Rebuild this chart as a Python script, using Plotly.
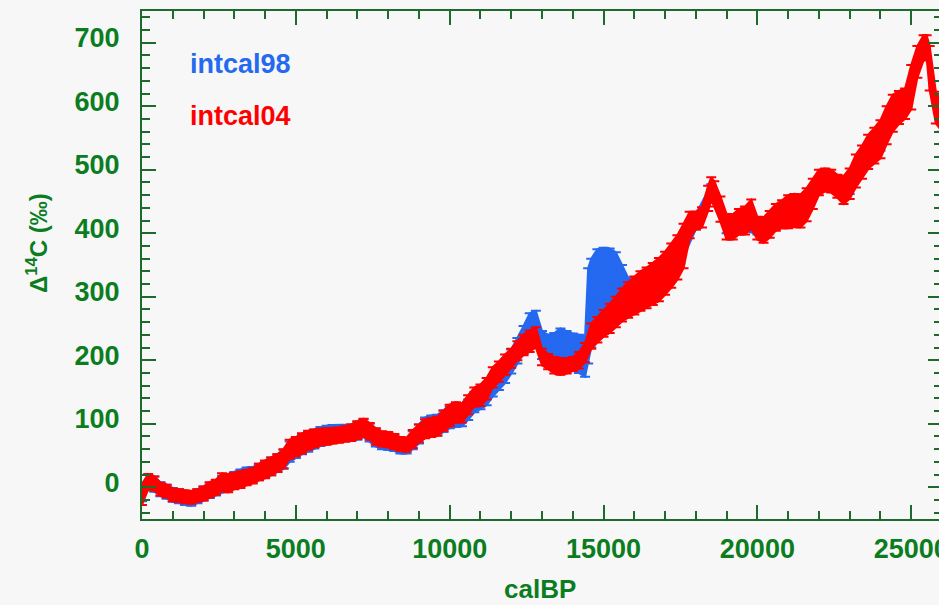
import plotly.graph_objects as go

# --- IntCal04 (red): cal BP, delta-14C (permil), 1-sigma ---
cal04 = [0, 200, 400, 600, 800, 1000, 1200, 1400, 1600, 1800,
         2000, 2200, 2400, 2600, 2800, 3000, 3200, 3400, 3600, 3800,
         4000, 4200, 4400, 4600, 4800, 5000, 5200, 5400, 5600, 5800,
         6000, 6200, 6400, 6600, 6800, 7000, 7200, 7400, 7600, 7800,
         8000, 8200, 8400, 8600, 8800, 9000, 9200, 9400, 9600, 9800,
         10000, 10200, 10400, 10600, 10800, 11000, 11200, 11400, 11600, 11800,
         12000, 12200, 12400, 12600, 12800, 13000, 13200, 13400, 13600, 13800,
         14000, 14200, 14400, 14600, 14800, 15000, 15200, 15400, 15600, 15800,
         16000, 16200, 16400, 16600, 16800, 17000, 17200, 17400, 17600, 17800,
         18000, 18200, 18400, 18500, 18600, 18800, 19000, 19200, 19400, 19600,
         19800, 20000, 20200, 20400, 20600, 20800, 21000, 21200, 21400, 21600,
         21800, 22000, 22200, 22400, 22600, 22800, 23000, 23200, 23400, 23600,
         23800, 24000, 24200, 24400, 24600, 24800, 25000, 25200, 25400, 25500,
         25600, 25800, 26000]
d14c04 = [-12, 9, 6, -3, -6, -12, -13, -15, -16, -13,
          -10, -4, 0, 8, 6, 10, 12, 15, 18, 24,
          28, 33, 38, 45, 60, 64, 69, 74, 77, 79,
          80, 81, 82, 84, 86, 90, 94, 88, 80, 76,
          75, 72, 68, 67, 76, 85, 92, 94, 96, 105,
          113, 118, 117, 130, 142, 145, 155, 173, 182, 193,
          203, 215, 224, 230, 236, 205, 198, 192, 190, 191,
          194, 200, 212, 238, 248, 258, 266, 276, 287, 295,
          302, 309, 314, 320, 327, 337, 349, 362, 380, 413,
          420, 425, 455, 470, 462, 438, 410, 410, 418, 420,
          430, 408, 405, 414, 425, 430, 434, 436, 435, 445,
          462, 480, 484, 482, 474, 468, 478, 498, 512, 528,
          538, 548, 570, 589, 598, 604, 630, 670, 692, 694,
          660, 598, 582]
sig04 = [16, 12, 11, 10, 10, 10, 10, 10, 10, 10,
         11, 12, 12, 14, 14, 13, 13, 12, 12, 13,
         14, 14, 14, 15, 15, 15, 16, 15, 14, 13,
         13, 12, 12, 12, 13, 14, 14, 13, 13, 12,
         12, 12, 11, 11, 14, 14, 15, 15, 15, 16,
         17, 16, 15, 15, 15, 17, 17, 16, 16, 16,
         15, 15, 16, 17, 16, 13, 12, 13, 13, 12,
         11, 13, 15, 20, 20, 21, 23, 24, 26, 28,
         30, 31, 32, 33, 34, 34, 35, 35, 35, 21,
         14, 16, 20, 18, 20, 20, 20, 20, 20, 22,
         23, 18, 20, 21, 21, 22, 26, 26, 26, 26,
         24, 20, 18, 18, 18, 22, 24, 26, 26, 27,
         28, 30, 30, 29, 26, 24, 35, 25, 20, 18,
         35, 25, 22]

# --- IntCal98 (blue): cal BP, delta-14C (permil), 1-sigma ---
cal98 = [0, 200, 400, 600, 800, 1000, 1200, 1400, 1600, 1800,
         2000, 2200, 2400, 2600, 2800, 3000, 3200, 3400, 3600, 3800,
         4000, 4200, 4400, 4600, 4800, 5000, 5200, 5400, 5600, 5800,
         6000, 6200, 6400, 6600, 6800, 7000, 7200, 7400, 7600, 7800,
         8000, 8200, 8400, 8600, 8800, 9000, 9200, 9400, 9600, 9800,
         10000, 10200, 10400, 10600, 10800, 11000, 11200, 11400, 11600, 11800,
         12000, 12200, 12400, 12600, 12800, 13000, 13200, 13400, 13600, 13800,
         14000, 14200, 14400, 14500, 14600, 14800, 15000, 15200, 15400, 15600,
         15800, 16000, 16500, 17000, 17500, 18000, 18500, 19000, 19500, 20000,
         20500, 21000, 21500, 22000, 22500, 23000, 23500, 24000]
d14c98 = [-8, 8, 5, -3, -7, -12, -14, -17, -18, -14,
          -10, -5, -1, 5, 8, 11, 15, 18, 20, 24,
          28, 33, 38, 44, 56, 62, 68, 72, 76, 80,
          83, 84, 85, 85, 86, 89, 93, 86, 78, 73,
          72, 70, 65, 65, 74, 84, 94, 97, 98, 104,
          110, 112, 112, 122, 134, 140, 146, 160, 170, 182,
          198, 215, 232, 250, 252, 224, 218, 220, 224, 222,
          216, 210, 206, 270, 290, 305, 312, 318, 322, 320,
          305, 302, 316, 336, 370, 418, 465, 412, 418, 410,
          418, 433, 440, 478, 478, 476, 520, 546]
sig98 = [14, 12, 12, 11, 11, 11, 11, 11, 11, 11,
         11, 12, 12, 13, 13, 13, 13, 13, 12, 13,
         13, 14, 14, 15, 16, 16, 16, 16, 15, 15,
         14, 14, 13, 13, 13, 14, 14, 14, 14, 13,
         13, 13, 12, 12, 14, 15, 16, 16, 16, 17,
         17, 17, 16, 16, 16, 17, 17, 17, 17, 18,
         19, 20, 22, 24, 26, 22, 22, 23, 26, 24,
         26, 30, 32, 75, 70, 70, 65, 58, 48, 30,
         25, 20, 18, 18, 18, 12, 12, 12, 12, 12,
         12, 14, 14, 12, 12, 14, 14, 16]

BLUE = "#2469f0"
RED = "#ff0000"
TXT = "#0b7d1f"
AXC = "#1d6a2c"
BG = "#f7f7f7"
FONT = "Liberation Sans, Arial, sans-serif"


def add_curve(fig, x, y, s, color):
    hi = [v + e for v, e in zip(y, s)]
    lo = [v - e for v, e in zip(y, s)]
    fig.add_trace(go.Scatter(x=x, y=hi, mode="lines",
                             line=dict(color=color, width=2),
                             hoverinfo="skip", showlegend=False))
    fig.add_trace(go.Scatter(x=x, y=lo, mode="lines", fill="tonexty",
                             fillcolor=color, line=dict(color=color, width=2),
                             hoverinfo="skip", showlegend=False))
    fig.add_trace(go.Scatter(x=x, y=y, mode="markers",
                             marker=dict(color=color, size=5, symbol="square"),
                             error_y=dict(type="data", array=s, color=color,
                                          thickness=2, width=5),
                             showlegend=False))


fig = go.Figure()
add_curve(fig, cal98, d14c98, sig98, BLUE)
add_curve(fig, cal04, d14c04, sig04, RED)

tickfont = dict(family=FONT, size=27, color=TXT, weight="bold")
axis_common = dict(showline=True, linecolor=AXC, linewidth=2, mirror="ticks",
                   ticks="inside", ticklen=14, tickwidth=2, tickcolor=AXC,
                   showgrid=False, zeroline=False, tickfont=tickfont)

fig.update_xaxes(range=[0, 26000], dtick=5000, tick0=0, tickformat="d",
                 minor=dict(dtick=1000, ticks="inside", ticklen=8,
                            tickwidth=2, tickcolor=AXC, showgrid=False),
                 ticklabelstandoff=5, **axis_common)
fig.update_yaxes(range=[-50, 750], dtick=100, tick0=0, tickformat="d",
                 minor=dict(dtick=20, ticks="inside", ticklen=8,
                            tickwidth=2, tickcolor=AXC, showgrid=False),
                 ticklabelstandoff=15, ticklabelshift=-5, **axis_common)

labfont = dict(family=FONT, size=27, weight="bold")
fig.add_annotation(text="intcal98", xref="paper", yref="paper", x=0.058,
                   y=0.896, xanchor="left", yanchor="middle", showarrow=False,
                   font=dict(color=BLUE, **labfont))
fig.add_annotation(text="intcal04", xref="paper", yref="paper", x=0.058,
                   y=0.794, xanchor="left", yanchor="middle", showarrow=False,
                   font=dict(color=RED, **labfont))
fig.add_annotation(text="calBP", xref="paper", yref="paper", x=0.498,
                   y=-0.138, xanchor="center", yanchor="middle",
                   showarrow=False,
                   font=dict(color=TXT, size=26, family=FONT, weight="bold"))
fig.add_annotation(text="Δ<sup>14</sup>C (‰)", xref="paper", yref="paper",
                   x=-0.131, y=0.5436, xanchor="center", yanchor="middle",
                   textangle=-90, showarrow=False,
                   font=dict(color=TXT, size=24, family=FONT, weight="bold"))

# The frame reaches slightly past the right edge of the page view; extra
# paper width keeps the last tick label from being dropped.
fig.update_layout(width=958, height=605, autosize=False,
                  margin=dict(l=142, r=15, t=9, b=86),
                  paper_bgcolor=BG, plot_bgcolor=BG, showlegend=False)

fig.write_html("out.html",
               post_script="document.documentElement.style.overflow='hidden';"
                           "document.body.style.overflow='hidden';")
